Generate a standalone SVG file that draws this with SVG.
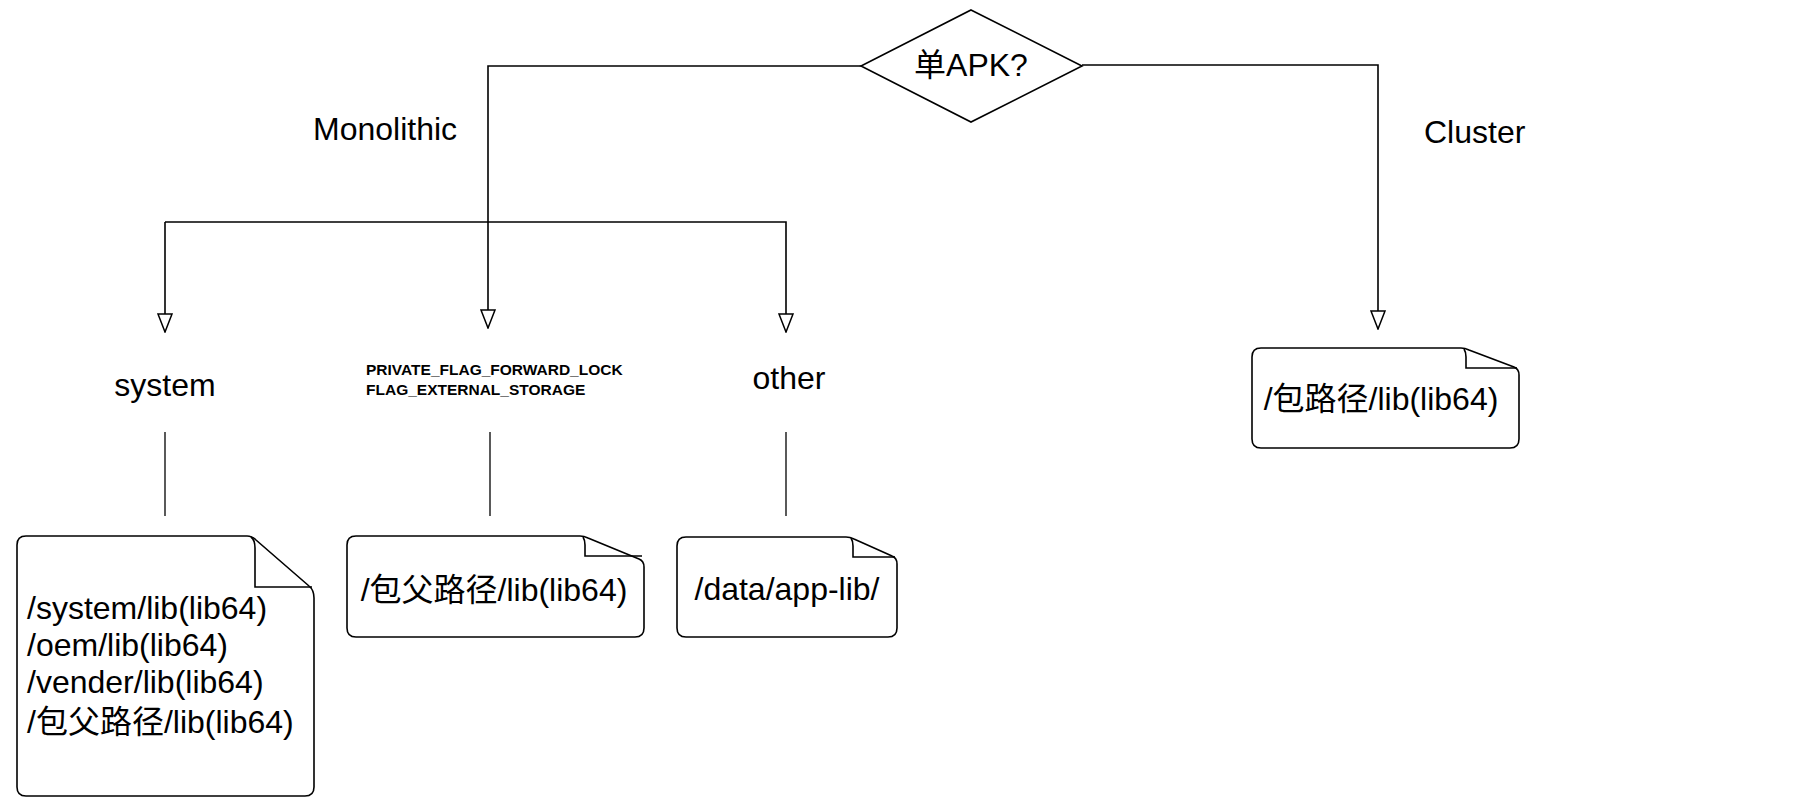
<svg xmlns="http://www.w3.org/2000/svg" width="1812" height="808" viewBox="0 0 1812 808">
<style>
.t{font-family:"Liberation Sans","Noto Sans CJK SC",Arial,sans-serif;font-size:32px;fill:#000}
.c{text-anchor:middle}
.b{font-weight:bold;font-size:15.5px}
.shape{fill:#fff;stroke:#000;stroke-width:1.6}
.flap{fill:none;stroke:#000;stroke-width:1.6}
.edge{fill:none;stroke:#000;stroke-width:1.6}
.thin{fill:none;stroke:#000;stroke-width:1.3}
</style>
<defs>
<marker id="arr" markerUnits="userSpaceOnUse" viewBox="-1 -1 20 16" markerWidth="20" markerHeight="16" refX="18" refY="7" orient="auto">
<path d="M0,0 L18,7 L0,14 Z" fill="#fff" stroke="#000" stroke-width="1.5"/>
</marker>
</defs>
<rect width="1812" height="808" fill="#fff"/>
<g id="connectors">
<path class="edge" d="M861,66 H488 V328" marker-end="url(#arr)"/>
<path class="edge" d="M1082,65 H1378 V329" marker-end="url(#arr)"/>
<path class="edge" d="M165,222 V332" marker-end="url(#arr)"/>
<path class="edge" d="M165,222 H786 V332" marker-end="url(#arr)"/>
<path class="thin" d="M165,432 V516"/>
<path class="thin" d="M490,432 V516"/>
<path class="thin" d="M786,432 V516"/>
</g>
<g id="decision">
<polygon class="shape" points="971,10 1082,66 971,122 861,66"/>
<text class="t c" x="971" y="76">单APK?</text>
</g>
<g id="label-monolithic"><text class="t" x="313" y="140">Monolithic</text></g>
<g id="label-cluster"><text class="t" x="1424" y="143">Cluster</text></g>
<g id="label-system"><text class="t c" x="165" y="396">system</text></g>
<g id="label-flags">
<text class="t b" x="366" y="375">PRIVATE_FLAG_FORWARD_LOCK</text>
<text class="t b" x="366" y="395">FLAG_EXTERNAL_STORAGE</text>
</g>
<g id="label-other"><text class="t c" x="789" y="389">other</text></g>
<g id="note-system">
<path class="shape" d="M26,536 H247 Q252,536 256,540 L309,586 Q314,590 314,598 V787 Q314,796 305,796 H26 Q17,796 17,787 V545 Q17,536 26,536 Z"/>
<path class="flap" d="M251,537 Q255,540 255,548 V587 H312"/>
<text class="t" x="27" y="619">/system/lib(lib64)</text>
<text class="t" x="27" y="656">/oem/lib(lib64)</text>
<text class="t" x="27" y="693">/vender/lib(lib64)</text>
<text class="t" x="27" y="733">/包父路径/lib(lib64)</text>
</g>
<g id="note-parent">
<path class="shape" d="M356,536 H580 Q584,536 588,538 L639,559 Q644,561 644,567 V628 Q644,637 635,637 H356 Q347,637 347,628 V545 Q347,536 356,536 Z"/>
<path class="flap" d="M583,537 Q585,540 585,545 V556 H642"/>
<text class="t c" x="494" y="601">/包父路径/lib(lib64)</text>
</g>
<g id="note-data">
<path class="shape" d="M686,537 H846 Q850,537 854,539 L892,556 Q897,558 897,564 V628 Q897,637 888,637 H686 Q677,637 677,628 V546 Q677,537 686,537 Z"/>
<path class="flap" d="M851,538 Q853,541 853,546 V557 H895"/>
<text class="t c" x="787" y="600">/data/app-lib/</text>
</g>
<g id="note-cluster">
<path class="shape" d="M1261,348 H1461 Q1465,348 1469,350 L1514,367 Q1519,369 1519,375 V439 Q1519,448 1510,448 H1261 Q1252,448 1252,439 V357 Q1252,348 1261,348 Z"/>
<path class="flap" d="M1464,349 Q1466,352 1466,357 V368 H1517"/>
<text class="t c" x="1381" y="410">/包路径/lib(lib64)</text>
</g>
</svg>
